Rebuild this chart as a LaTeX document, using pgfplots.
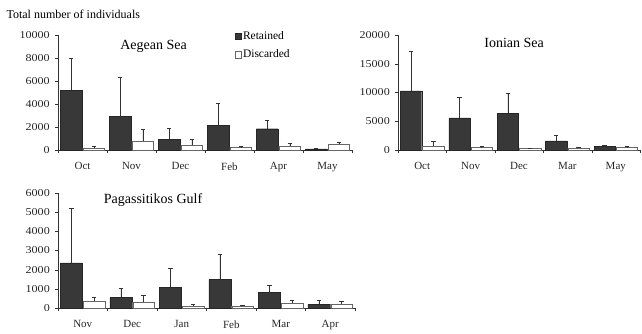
\documentclass[border=0pt]{standalone}
\usepackage{pgfplots}
\pgfplotsset{compat=1.18}
\usepackage{fontspec}
\setmainfont{Liberation Serif}
\pgfplotsset{
  panel/.style={
    scale only axis, anchor=south west,
    height=115pt,
    axis x line*=bottom, axis y line*=left,
    axis line style={-, black!80},
    ymin=0,
    tick align=outside,
    major tick length=3pt,
    tick style={black!80},
    x tick label as interval,
    xtick pos=bottom, ytick pos=left,
    /pgf/number format/assume math mode=true,
    /pgf/number format/1000 sep={},
    tick label style={font=\fontsize{10.5}{11}\selectfont, text=black!85},
    y tick label style={xscale=1.15, xshift=-1pt},
    x tick label style={yshift=-6pt, font=\fontsize{11}{12}\selectfont},
    scaled y ticks=false,
    bar width=0.44,
    clip=false,
  },
  ret/.style={ybar, bar shift=0pt, fill=black!78, draw=black!85, line width=0.4pt,
    error bars/.cd, y dir=plus, y explicit, error bar style={black!80, line width=0.5pt},
    error mark=-, error mark options={rotate=90, mark size=2.2pt, black!80, line width=0.7pt}},
  dis/.style={ybar, bar shift=0pt, fill=white, draw=black!60, line width=0.4pt,
    error bars/.cd, y dir=plus, y explicit, error bar style={black!80, line width=0.5pt},
    error mark=-, error mark options={rotate=90, mark size=2.2pt, black!80, line width=0.7pt}},
}
\begin{document}
\begin{tikzpicture}[x=1pt,y=1pt]
\useasboundingbox (0,0) rectangle (642,333);
\node[anchor=west, font=\fontsize{12}{13}\selectfont] at (3,319) {Total number of individuals};

% Aegean Sea
\begin{axis}[panel, at={(58pt,183pt)}, width=294pt,
  xmin=-0.5, xmax=5.5, ymax=10000,
  xtick={-0.5,0.5,...,5.5},
  xticklabels={Oct,Nov,Dec,Feb,Apr,May},
  ytick={0,2000,...,10000},
  legend cell align=left,
  legend style={at={(0.60,1.045)}, anchor=north west, draw=none, fill=none,
    font=\fontsize{11.5}{12}\selectfont, row sep=6pt,
    inner sep=0pt, nodes={inner sep=1.5pt}},
  legend image code/.code={\draw[#1, line width=0.5pt] (0pt,-3.2pt) rectangle (6.4pt,3.2pt);},
]
\addplot[ret] coordinates {(-0.23,5200) +- (0,2800) (0.77,2900) +- (0,3400) (1.77,950) +- (0,900) (2.77,2150) +- (0,1950) (3.77,1850) +- (0,700) (4.77,100) +- (0,60)};
\addplot[dis] coordinates {(0.23,200) +- (0,130) (1.23,750) +- (0,1050) (2.23,400) +- (0,550) (3.23,220) +- (0,80) (4.23,350) +- (0,200) (5.23,500) +- (0,170)};
\legend{Retained, Discarded}
\node[font=\fontsize{14}{15}\selectfont] at (rel axis cs:0.325,0.90) {Aegean Sea};
\end{axis}

% Ionian Sea
\begin{axis}[panel, at={(398pt,183pt)}, width=242pt,
  xmin=-0.5, xmax=4.5, ymax=20000,
  xtick={-0.5,0.5,...,4.5},
  xticklabels={Oct,Nov,Dec,Mar,May},
  ytick={0,5000,...,20000},
]
\addplot[ret] coordinates {(-0.23,10300) +- (0,6900) (0.77,5600) +- (0,3600) (1.77,6400) +- (0,3400) (2.77,1600) +- (0,1000) (3.77,600) +- (0,200)};
\addplot[dis] coordinates {(0.23,700) +- (0,800) (1.23,500) +- (0,50) (2.23,250) +- (0,100) (3.23,350) +- (0,100) (4.23,450) +- (0,100)};
\node[font=\fontsize{14}{15}\selectfont] at (rel axis cs:0.48,0.93) {Ionian Sea};
\end{axis}

% Pagassitikos Gulf
\begin{axis}[panel, at={(58pt,25pt)}, width=297pt,
  xmin=-0.5, xmax=5.5, ymax=6000,
  xtick={-0.5,0.5,...,5.5},
  xticklabels={Nov,Dec,Jan,Feb,Mar,Apr},
  ytick={0,1000,...,6000},
]
\addplot[ret] coordinates {(-0.23,2350) +- (0,2850) (0.77,550) +- (0,500) (1.77,1080) +- (0,970) (2.77,1500) +- (0,1300) (3.77,800) +- (0,400) (4.77,200) +- (0,200)};
\addplot[dis] coordinates {(0.23,350) +- (0,200) (1.23,300) +- (0,350) (2.23,120) +- (0,80) (3.23,100) +- (0,50) (4.23,250) +- (0,150) (5.23,200) +- (0,150)};
\node[font=\fontsize{14}{15}\selectfont] at (rel axis cs:0.32,0.94) {Pagassitikos Gulf};
\end{axis}
\end{tikzpicture}
\end{document}
